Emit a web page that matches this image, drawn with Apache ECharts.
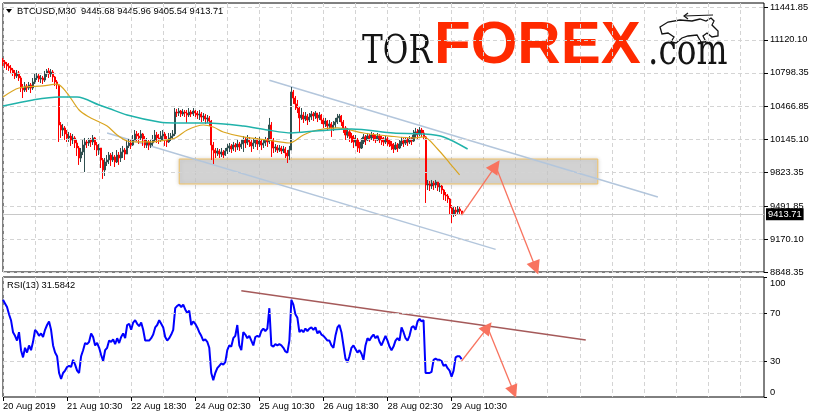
<!DOCTYPE html>
<html><head><meta charset="utf-8">
<script src="https://cdn.jsdelivr.net/npm/echarts@6.0.0/dist/echarts.min.js"></script>
<style>html,body{margin:0;padding:0;background:#fff}#c{width:815px;height:419px}</style>
</head><body><div id="c"></div>
<script>
// ---- data (BTCUSD M30, each candle = 1 hour aggregate) : [open, close, low, high]
const candles = [
[10923,10904,10864,10943],[10904,10884,10845,10923],[10884,10864,10825,10904],[10864,10845,10816,10894],[10845,10825,10796,10874],
[10825,10796,10767,10845],[10796,10767,10737,10825],[10767,10796,10747,10825],[10796,10747,10718,10816],[10747,10649,10610,10767],
[10649,10630,10551,10688],[10630,10669,10610,10708],[10669,10649,10610,10688],[10649,10679,10630,10708],[10679,10649,10600,10698],
[10649,10708,10630,10747],[10708,10747,10688,10786],[10747,10767,10727,10796],[10767,10737,10708,10786],[10737,10747,10698,10776],
[10747,10727,10688,10767],[10727,10786,10708,10816],[10786,10816,10757,10835],[10816,10786,10747,10845],[10786,10806,10757,10835],
[10806,10757,10708,10825],[10757,10708,10669,10767],[10708,10679,10639,10727],[10679,10287,10121,10679],[10287,10238,10160,10316],
[10238,10258,10179,10297],[10258,10199,10140,10277],[10199,10160,10121,10238],[10160,10179,10121,10219],[10179,10140,10082,10209],
[10140,10160,10101,10199],[10160,10111,10062,10179],[10111,10062,9984,10140],[10062,9964,9896,10082],[9964,10023,9925,10062],
[10023,10091,9993,10140],[10091,10121,9827,10160],[10121,10111,10062,10140],[10111,10140,10082,10160],[10140,10121,10072,10160],
[10121,10160,10091,10189],[10160,10091,10042,10170],[10091,10042,9984,10121],[10042,10062,9993,10101],[10062,9945,9866,10062],
[9945,9847,9759,9964],[9847,9925,9788,9964],[9925,9945,9886,9993],[9945,9993,9905,10023],[9993,9945,9886,10013],
[9945,9974,9925,10023],[9974,9925,9876,9993],[9925,9993,9915,10042],[9993,9964,9896,10023],[9964,10023,9925,10062],
[10023,10042,9964,10082],[10042,10003,9945,10062],[10003,10082,10003,10140],[10082,10111,10062,10150],[10111,10091,10052,10140],
[10091,10140,10082,10189],[10140,10199,10140,10238],[10199,10179,10130,10228],[10179,10160,10101,10209],[10160,10199,10140,10238],
[10199,10140,10082,10209],[10140,10091,10062,10179],[10091,10121,10062,10160],[10121,10091,10042,10140],[10091,10111,10062,10150],
[10111,10140,10082,10189],[10140,10189,10121,10238],[10189,10160,10111,10219],[10160,10140,10101,10199],[10140,10179,10121,10228],
[10179,10199,10140,10238],[10199,10140,10082,10219],[10140,10121,10072,10179],[10121,10160,10111,10209],[10160,10179,10130,10209],
[10179,10199,10140,10238],[10199,10414,10179,10453],[10414,10404,10365,10444],[10404,10424,10375,10453],[10424,10395,10365,10434],
[10395,10414,10375,10444],[10414,10404,10365,10434],[10404,10385,10307,10434],[10385,10414,10365,10453],[10414,10395,10365,10434],
[10395,10424,10375,10453],[10424,10404,10365,10434],[10404,10385,10346,10424],[10385,10395,10336,10434],[10395,10365,10316,10414],
[10365,10375,10326,10404],[10375,10346,10297,10395],[10346,10356,10307,10385],[10356,10326,10277,10375],[10326,10091,9945,10336],
[10091,10042,9905,10121],[10042,10013,9964,10062],[10013,10033,9984,10062],[10033,10003,9964,10052],[10003,10023,9974,10062],
[10023,9993,9964,10042],[9993,10033,9984,10062],[10033,10062,10003,10101],[10062,10082,10023,10111],[10082,10052,10013,10101],
[10052,10091,10033,10121],[10091,10072,10023,10111],[10072,10101,10042,10140],[10101,10072,10033,10121],[10072,10101,10052,10140],
[10101,10140,10023,10179],[10140,10111,10062,10170],[10111,10150,10091,10189],[10150,10121,10072,10170],[10121,10082,10023,10140],
[10082,10111,10052,10150],[10111,10140,10072,10170],[10140,10101,10042,10160],[10101,10130,10072,10170],[10130,10091,10042,10150],
[10091,10111,10062,10150],[10111,10140,10082,10170],[10140,10121,10072,10160],[10121,10287,10101,10356],[10287,10140,9974,10316],
[10140,10062,10013,10160],[10062,10072,10023,10101],[10072,10042,10013,10091],[10042,10062,10023,10091],[10062,10033,10003,10082],
[10033,10052,10013,10082],[10052,10013,9964,10072],[10013,9984,9915,10042],[9984,10042,9945,10082],[10042,10610,10042,10659],
[10610,10551,10493,10630],[10551,10493,10434,10571],[10493,10453,10404,10532],[10453,10356,10209,10473],[10356,10385,10336,10453],
[10385,10346,10307,10414],[10346,10375,10326,10414],[10375,10336,10287,10395],[10336,10365,10316,10404],[10365,10395,10336,10424],
[10395,10375,10326,10414],[10375,10404,10346,10424],[10404,10356,10316,10404],[10356,10385,10336,10414],[10385,10336,10297,10395],
[10336,10297,10258,10356],[10297,10326,10267,10356],[10326,10277,10238,10336],[10277,10297,10248,10336],[10297,10258,10170,10316],
[10258,10287,10228,10326],[10287,10316,10258,10356],[10316,10356,10297,10395],[10356,10375,10316,10395],[10375,10316,10277,10385],
[10316,10258,10209,10336],[10258,10189,10140,10277],[10189,10219,10160,10258],[10219,10179,10121,10238],[10179,10160,10111,10209],
[10160,10121,10062,10189],[10121,10140,10082,10189],[10140,10082,10023,10160],[10082,10062,10013,10121],[10062,10121,10052,10160],
[10121,10170,10101,10199],[10170,10140,10091,10189],[10140,10179,10130,10209],[10179,10160,10121,10199],[10160,10189,10140,10219],
[10189,10170,10130,10209],[10170,10140,10111,10189],[10140,10179,10130,10209],[10179,10160,10111,10199],[10160,10140,10091,10179],
[10140,10121,10082,10170],[10121,10150,10101,10179],[10150,10130,10082,10170],[10130,10101,10072,10150],[10101,10082,10042,10130],
[10082,10052,10013,10111],[10052,10091,10042,10121],[10091,10062,10023,10111],[10062,10101,10052,10140],[10101,10130,10082,10170],
[10130,10111,10072,10160],[10111,10140,10091,10170],[10140,10121,10082,10160],[10121,10150,10101,10179],[10150,10130,10091,10170],
[10130,10189,10121,10238],[10189,10219,10160,10258],[10219,10199,10150,10248],[10199,10238,10179,10267],[10238,10209,10170,10258],
[10209,10170,10140,10238],[10170,9700,9524,10179],[9700,9710,9651,9749],[9710,9690,9641,9739],[9690,9719,9661,9749],
[9719,9700,9651,9739],[9700,9729,9670,9749],[9729,9680,9641,9729],[9680,9690,9631,9719],[9690,9651,9612,9700],
[9651,9602,9553,9661],[9602,9592,9543,9631],[9592,9563,9524,9612],[9563,9475,9406,9573],[9475,9416,9328,9504],
[9416,9455,9387,9494],[9455,9436,9396,9485],[9436,9465,9416,9494],[9465,9445.68,9406,9485],[9445.68,9413.71,9405.54,9445.96]
];
const rsi = [
81,78,75,69,64,54,51,47,54,39, 33,41,37,43,39,46,56,54,51,53, 50,56,60,63,56,43,37,34,20,15,
20,22,25,26,25,31,27,22,20,34, 39,45,44,46,53,50,43,45,41,35, 30,39,41,47,46,48,44,49,45,50,
53,49,60,61,56,62,64,61,59,62, 56,47,47,47,49,52,58,60,64,61, 58,50,47,49,52,56,74,76,77,75,
77,73,70,72,60,63,61,58,54,51, 47,48,46,41,20,14,20,24,26,28, 27,29,39,43,42,49,51,60,43,39,
54,52,49,51,47,43,50,51,50,55, 57,55,57,74,43,42,44,43,44,43, 41,38,37,47,81,77,69,66,54,56,
54,57,55,57,58,56,58,53,55,52, 51,49,47,47,43,41,51,58,60,54, 43,32,29,34,41,43,40,37,39,36,
31,43,49,47,50,52,49,51,46,43, 47,51,47,42,39,42,47,49,47,58, 54,49,47,51,58,59,56,63,65,63,
64,20,20,20,21,31,32,31,31,30, 26,27,24,22,17,22,33,34,34,31.58
];
// moving averages [slot, price]
const maFast = [[0,10561],[8,10649],[20,10669],[27,10688],[32,10600],[38,10434],[43,10365],[47,10326],[52,10277],[57,10189],[62,10130],[68,10121],[73,10121],[78,10130],[86,10160],[92,10238],[100,10287],[105,10267],[110,10219],[120,10170],[132,10140],[143,10111],[150,10189],[157,10238],[167,10258],[180,10209],[193,10179],[205,10160],[210,10170],[217,10052],[223,9915],[228,9798]];
const maSlow = [[0,10473],[15,10532],[28,10561],[37,10561],[48,10483],[53,10448],[62,10385],[78,10316],[86,10307],[102,10307],[120,10277],[132,10238],[144,10209],[156,10228],[174,10248],[195,10209],[210,10199],[220,10170],[232,10052]];
const upperChannel = [[133,10725],[327,9582]];
const lowerChannel = [[52,10209],[246,9070]];
const zoneSlots = [88, 297];
const zonePrices = [9954, 9710];
const priceArrows = [[229,9406],[246,9886],[266,8887]];
const rsiTrend = [[119,88.6],[291,47.5]];
const rsiArrows = [[229,30],[242,58],[255,4.4]];
const rsiLevels = [30, 70];
const lastPrice = 9413.71;
const priceTicks = [11441.85, 11120.10, 10798.35, 10466.85, 10145.10, 9823.35, 9491.85, 9170.10, 8848.35];
const rsiTicks = [0, 30, 70, 100];
const timeLabels = ['20 Aug 2019','21 Aug 10:30','22 Aug 18:30','24 Aug 02:30','25 Aug 10:30','26 Aug 18:30','28 Aug 02:30','29 Aug 10:30'];
const slotCount = 381;

// hourly categories starting 20 Aug 2019 02:30
const cats = [];
const t0 = Date.UTC(2019, 7, 20, 2, 30);
for (let i = 0; i < slotCount; i++) cats.push(new Date(t0 + i * 3600000).toISOString().slice(0, 16).replace('T', ' '));

const F = '"Liberation Sans", Arial, sans-serif';
const FS = 9.3;
const gridDash = {color:'#d4d4d4', type:[4,3], width:1};
const arrowColor = '#f8735f';
const arrowLines = p => [[{coord:p[0]},{coord:p[1]}],[{coord:p[1]},{coord:p[2]}]];
const tickEvery = (i) => i % 32 === 0 && i / 32 < timeLabels.length;

const chart = echarts.init(document.getElementById('c'));
const gridBase = {show:true, borderColor:'#000', borderWidth:1, backgroundColor:'#fff'};
const txt = (t, x, y, font, fill, extra) => Object.assign({type:'text', x:x, y:y,
  style:{text:t, font:font, fill:fill, align:'left', verticalAlign:'middle', textAlign:'left', textVerticalAlign:'middle'}}, extra || {});
chart.setOption({
  animation:false,
  backgroundColor:'#fff',
  grid:[
    Object.assign({left:3, top:3, width:761, height:269}, gridBase),
    Object.assign({left:3, top:277, width:761, height:120}, gridBase)
  ],
  xAxis:[
    {gridIndex:0, type:'category', data:cats, boundaryGap:false, axisLine:{show:false}, axisTick:{show:false}, axisLabel:{show:false},
     splitLine:{show:true, interval:15, lineStyle:gridDash}},
    {gridIndex:1, type:'category', data:cats, boundaryGap:false, axisLine:{show:false},
     axisTick:{show:true, interval:(i)=>tickEvery(i), length:4, lineStyle:{color:'#000'}},
     axisLabel:{show:true, interval:(i)=>tickEvery(i), align:'left', margin:5, fontSize:FS, fontFamily:F, color:'#000',
       formatter:(v,i)=> tickEvery(i) ? timeLabels[i/32] : ''},
     splitLine:{show:true, interval:15, lineStyle:gridDash}}
  ],
  yAxis:[
    {gridIndex:0, type:'value', position:'right', min:8848.35, max:11481, axisLine:{show:false}, splitLine:{show:false},
     axisTick:{show:true, length:4, customValues:priceTicks, lineStyle:{color:'#000'}},
     axisLabel:{customValues:priceTicks, margin:6, fontSize:FS, fontFamily:F, color:'#000', formatter:v=>v.toFixed(2)}},
    {gridIndex:1, type:'value', position:'right', min:0, max:100, axisLine:{show:false}, splitLine:{show:false},
     axisTick:{show:true, length:3, customValues:rsiTicks, lineStyle:{color:'#000'}},
     axisLabel:{customValues:rsiTicks, margin:6, fontSize:FS, fontFamily:F, color:'#000',
       formatter:v=> v===100 ? '{t|100}' : (v===0 ? '{b|0}' : String(v)),
       rich:{t:{padding:[12,0,0,0], fontSize:FS, fontFamily:F, color:'#000'}, b:{padding:[0,0,10,0], fontSize:FS, fontFamily:F, color:'#000'}}}}
  ],
  series:[
    {type:'line', xAxisIndex:0, yAxisIndex:0, data:[], z:1, silent:true,
     markLine:{silent:true, symbol:'none', label:{show:false}, lineStyle:gridDash, data:priceTicks.map(v=>({yAxis:v}))}},
    {type:'line', xAxisIndex:1, yAxisIndex:1, data:[], z:1, silent:true,
     markLine:{silent:true, symbol:'none', label:{show:false}, lineStyle:gridDash, data:rsiLevels.map(v=>({yAxis:v}))}},
    {type:'line', xAxisIndex:0, yAxisIndex:0, data:upperChannel, symbol:'none', z:2, lineStyle:{color:'#b3c6dc', width:1.5}},
    {type:'line', xAxisIndex:0, yAxisIndex:0, data:lowerChannel, symbol:'none', z:2, lineStyle:{color:'#b3c6dc', width:1.5}},
    {type:'candlestick', xAxisIndex:0, yAxisIndex:0, data:candles, z:3, barWidth:1.6,
     itemStyle:{color:'#2f4f4f', color0:'#ff0000', borderColor:'#2f4f4f', borderColor0:'#ff0000', borderWidth:1},
     markLine:{silent:true, symbol:'none', data:[{yAxis:lastPrice}], lineStyle:{color:'#c8c8c8', type:'solid', width:1},
       label:{show:true, position:'end', distance:2, formatter:lastPrice.toFixed(2), color:'#fff', backgroundColor:'#000', padding:[2,2,1,2], fontSize:FS, fontFamily:F}}},
    {type:'line', xAxisIndex:0, yAxisIndex:0, data:[], z:4, silent:true,
     markArea:{silent:true, itemStyle:{color:'rgba(205,205,205,0.72)', borderColor:'#f0c266', borderWidth:1, shadowBlur:4, shadowColor:'rgba(0,0,0,0.18)'},
       data:[[{coord:[zoneSlots[0], zonePrices[0]]},{coord:[zoneSlots[1], zonePrices[1]]}]]}},
    {type:'line', xAxisIndex:0, yAxisIndex:0, data:maFast, symbol:'none', smooth:0.3, z:5, lineStyle:{color:'#daa520', width:1.2}},
    {type:'line', xAxisIndex:0, yAxisIndex:0, data:maSlow, symbol:'none', smooth:0.3, z:5, lineStyle:{color:'#20b2aa', width:1.5}},
    {type:'line', xAxisIndex:0, yAxisIndex:0, data:[], z:6, silent:true,
     markLine:{silent:true, symbol:['none','triangle'], symbolSize:14, label:{show:false}, lineStyle:{color:arrowColor, width:1.3, type:'solid'}, itemStyle:{color:arrowColor}, data:arrowLines(priceArrows)}},
    {type:'line', xAxisIndex:1, yAxisIndex:1, data:rsi, symbol:'none', z:3, lineStyle:{color:'#0000ff', width:2}},
    {type:'line', xAxisIndex:1, yAxisIndex:1, data:rsiTrend, symbol:'none', z:4, lineStyle:{color:'#a55a5a', width:1.5}},
    {type:'line', xAxisIndex:1, yAxisIndex:1, data:[], z:6, silent:true,
     markLine:{silent:true, symbol:['none','triangle'], symbolSize:13, label:{show:false}, lineStyle:{color:arrowColor, width:1.3, type:'solid'}, itemStyle:{color:arrowColor}, data:arrowLines(rsiArrows)}}
  ],
  graphic:[
    {type:'polygon', shape:{points:[[6,9],[12,9],[9,13]]}, style:{fill:'#000'}},
    txt('BTCUSD,M30  9445.68 9445.96 9405.54 9413.71', 17, 11, FS+'px '+F, '#000'),
    txt('RSI(13) 31.5842', 7, 285.5, FS+'px '+F, '#000'),
    txt('TOR', 362, 53, '40px "DejaVu Serif", serif', '#141414', {scaleX:0.78}),
    txt('FOREX', 434, 46.5, 'bold 60px "Liberation Sans", Arial, sans-serif', '#ff2a00'),
    txt('.com', 648, 53.5, '42px "DejaVu Serif", serif', '#141414', {scaleX:0.78}),
    {type:'polygon', shape:{points:[[660,27],[668,22],[680,20],[692,21],[700,19],[706,21],[711,18],[714,21],[712,25],[718,31],[718,36],[712,37],[707,33],[703,36],[706,42],[701,42],[697,35],[688,36],[682,38],[676,43],[671,42],[674,37],[668,33],[662,34]]},
     style:{fill:'#fff', stroke:'#141414', lineWidth:1.3}},
    {type:'polyline', shape:{points:[[684,16],[713,15]]}, style:{stroke:'#141414', lineWidth:1.2, fill:null}},
    {type:'polyline', shape:{points:[[688,13],[684,16],[688,19]]}, style:{stroke:'#141414', lineWidth:1.2, fill:null}}
  ]
});
</script>
</body></html>
